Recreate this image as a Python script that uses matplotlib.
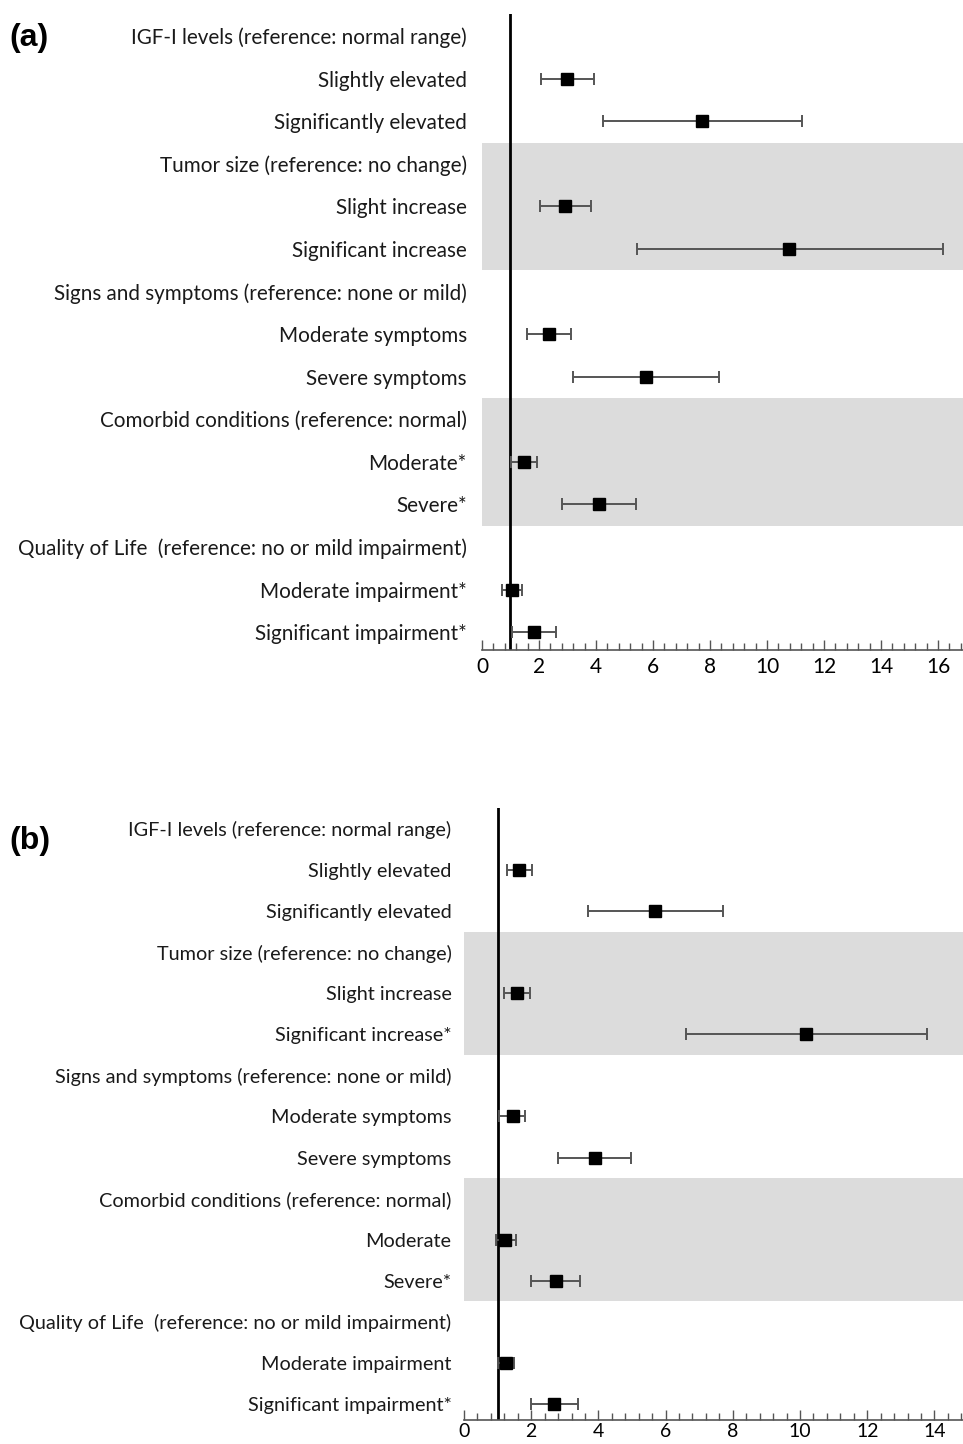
import numpy as np
import matplotlib
matplotlib.use("Agg")
import matplotlib.pyplot as plt
from matplotlib.ticker import MultipleLocator

plt.rcParams["font.family"] = ["Lato", "DejaVu Sans"]

nan = np.nan

labels_a = [
    "IGF-I levels (reference: normal range)",
    "Slightly elevated",
    "Significantly elevated",
    "Tumor size (reference: no change)",
    "Slight increase",
    "Significant increase",
    "Signs and symptoms (reference: none or mild)",
    "Moderate symptoms",
    "Severe symptoms",
    "Comorbid conditions (reference: normal)",
    "Moderate*",
    "Severe*",
    "Quality of Life  (reference: no or mild impairment)",
    "Moderate impairment*",
    "Significant impairment*",
]
or_a = [nan, 2.97, 7.72, nan, 2.91, 10.78, nan, 2.34, 5.74, nan, 1.47, 4.11, nan, 1.06, 1.82]
lo_a = [nan, 2.06, 4.25, nan, 2.02, 5.44, nan, 1.58, 3.18, nan, 1.02, 2.81, nan, 0.71, 1.04]
hi_a = [nan, 3.94, 11.24, nan, 3.84, 16.19, nan, 3.12, 8.31, nan, 1.94, 5.40, nan, 1.41, 2.60]

labels_b = [
    "IGF-I levels (reference: normal range)",
    "Slightly elevated",
    "Significantly elevated",
    "Tumor size (reference: no change)",
    "Slight increase",
    "Significant increase*",
    "Signs and symptoms (reference: none or mild)",
    "Moderate symptoms",
    "Severe symptoms",
    "Comorbid conditions (reference: normal)",
    "Moderate",
    "Severe*",
    "Quality of Life  (reference: no or mild impairment)",
    "Moderate impairment",
    "Significant impairment*",
]
or_b = [nan, 1.64, 5.68, nan, 1.57, 10.18, nan, 1.45, 3.90, nan, 1.22, 2.73, nan, 1.24, 2.68]
lo_b = [nan, 1.27, 3.70, nan, 1.19, 6.61, nan, 1.05, 2.81, nan, 0.94, 2.00, nan, 1.00, 1.98]
hi_b = [nan, 2.01, 7.70, nan, 1.96, 13.79, nan, 1.82, 4.97, nan, 1.55, 3.46, nan, 1.50, 3.38]

shaded_rows = [(3, 5), (9, 11)]
W, H = 963, 1444


def forest(ax, labels, odds, lo, hi, xmax, ylims, pad, fs, xfs, xpad):
    y = np.arange(len(labels))
    odds = np.array(odds)
    err = np.array([odds - np.array(lo), np.array(hi) - odds])
    for r0, r1 in shaded_rows:
        ax.axhspan(r0 - 0.5, r1 + 0.5, color="#dcdcdc", lw=0, zorder=0)
    ax.axvline(1, color="black", lw=2, zorder=2)
    ax.errorbar(odds, y, xerr=err, fmt="none", ecolor="#555555", elinewidth=1.4,
                capsize=4, capthick=1.4, zorder=3)
    ax.plot(odds, y, "s", color="black", ms=8, zorder=4)

    ax.set_xlim(0, xmax)
    ax.set_ylim(*ylims)
    ax.set_yticks(y)
    ax.set_yticklabels(labels, fontsize=fs, color="#1a1a1a")
    ax.tick_params(axis="y", length=0, pad=pad)
    ax.xaxis.set_major_locator(MultipleLocator(2))
    ax.xaxis.set_minor_locator(MultipleLocator(0.4))
    ax.tick_params(axis="x", which="major", direction="in", length=7, width=1,
                   color="#555555", labelsize=xfs, pad=xpad)
    ax.tick_params(axis="x", which="minor", direction="in", length=5, width=1,
                   color="#555555")
    for s in ["top", "right", "left"]:
        ax.spines[s].set_visible(False)
    ax.spines["bottom"].set_color("#555555")
    ax.spines["bottom"].set_linewidth(1.2)
    ax.set_facecolor("none")


fig = plt.figure(figsize=(W / 100, H / 100), dpi=100)

# panel (a): axes spans x 482..963, y 14..650 pixels
ax_a = fig.add_axes([482 / W, 1 - 650 / H, (963 - 482) / W, (650 - 14) / H])
forest(ax_a, labels_a, or_a, lo_a, hi_a, 16.88, (14.42, -0.52), 11, 14.9, 15, 5)

# panel (b): axes spans x 464..963, y 808..1420 pixels
ax_b = fig.add_axes([464 / W, 1 - 1420 / H, (963 - 464) / W, (1420 - 808) / H])
forest(ax_b, labels_b, or_b, lo_b, hi_b, 14.85, (14.39, -0.51), 9, 14.3, 14, 2)

fig.text(9 / W, 1 - 38 / H, "(a)", fontsize=23, fontweight="bold",
         family="Liberation Sans", va="center", ha="left")
fig.text(9 / W, 1 - 841 / H, "(b)", fontsize=23, fontweight="bold",
         family="Liberation Sans", va="center", ha="left")

fig.savefig("out.png", dpi=100)
